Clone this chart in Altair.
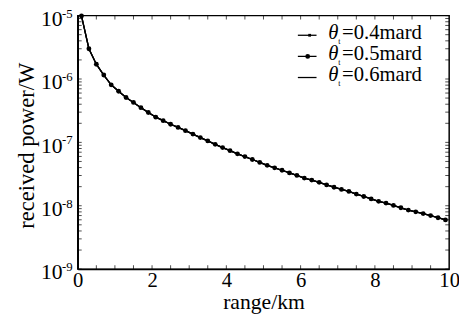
import altair as alt
import pandas as pd

# ---- data ----
range_km = [0.1, 0.3, 0.5, 0.7, 0.9, 1.1, 1.3, 1.5, 1.7, 1.9,
            2.1, 2.3, 2.5, 2.7, 2.9, 3.1, 3.3, 3.5, 3.7, 3.9,
            4.1, 4.3, 4.5, 4.7, 4.9, 5.1, 5.3, 5.5, 5.7, 5.9,
            6.1, 6.3, 6.5, 6.7, 6.9, 7.1, 7.3, 7.5, 7.7, 7.9,
            8.1, 8.3, 8.5, 8.7, 8.9, 9.1, 9.3, 9.5, 9.7, 9.9]
power_w = [9.9e-6, 3.0e-6, 1.71e-6, 1.155e-6, 8.09e-7, 6.40e-7, 5.10e-7, 4.27e-7, 3.53e-7, 2.96e-7,
           2.50e-7, 2.20e-7, 1.93e-7, 1.72e-7, 1.53e-7, 1.35e-7, 1.19e-7, 1.055e-7, 9.31e-8, 8.28e-8,
           7.39e-8, 6.59e-8, 5.97e-8, 5.37e-8, 4.82e-8, 4.34e-8, 3.97e-8, 3.63e-8, 3.30e-8, 3.01e-8,
           2.73e-8, 2.54e-8, 2.34e-8, 2.13e-8, 1.96e-8, 1.81e-8, 1.68e-8, 1.53e-8, 1.40e-8, 1.28e-8,
           1.175e-8, 1.10e-8, 1.01e-8, 9.29e-9, 8.53e-9, 8.01e-9, 7.51e-9, 7.00e-9, 6.47e-9, 5.98e-9]
series = ["0.4mard", "0.5mard", "0.6mard"]

x_labels = [0, 2, 4, 6, 8, 10]
x_minor = [0.5, 1, 1.5, 2, 2.5, 3, 3.5, 4, 4.5, 5, 5.5, 6, 6.5, 7, 7.5, 8, 8.5, 9, 9.5]
y_decades = [1e-9, 1e-8, 1e-7, 1e-6, 1e-5]
y_exponents = ["-9", "-8", "-7", "-6", "-5"]
y_minor = [m * d for d in [1e-9, 1e-8, 1e-7, 1e-6] for m in [2, 3, 4, 5, 6, 7, 8, 9]]

rows = [{"range": r, "power": p, "series": s}
        for s in series for r, p in zip(range_km, power_w)]
df = pd.DataFrame(rows)
exp_df = pd.DataFrame({"value": y_decades, "exp": y_exponents})
xt_df = pd.DataFrame({"value": x_minor})
yt_df = pd.DataFrame({"value": y_minor + y_decades})

FONT = "Liberation Serif"
W, H = 378, 258

xscale = alt.Scale(domain=[0, 10], nice=False, zero=False)
yscale = alt.Scale(type="log", domain=[1e-9, 1e-5], nice=False)

x_axis = alt.Axis(values=x_labels, labelFont=FONT, labelFontSize=21, labelColor="black",
                  tickSize=0, labelPadding=1, grid=False, domainColor="black", domainWidth=1.5,
                  title="range/km", titleFont=FONT, titleFontSize=22, titleFontWeight="normal",
                  titleColor="black", titleX=W / 2, titleY=40, titleBaseline="alphabetic",
                  labelFlush=False)
y_axis = alt.Axis(values=y_decades, labelExpr="'10'", labelFont=FONT, labelFontSize=22,
                  labelColor="black", tickSize=0, labelPadding=16, grid=False,
                  labelBaseline="middle", labelOffset=3,
                  domainColor="black", domainWidth=1.5,
                  title="received power/W", titleFont=FONT, titleFontSize=23,
                  titleFontWeight="normal", titleColor="black", titleX=-52, titleY=132,
                  titleAngle=-90, titleBaseline="middle", titleAlign="center")

base = alt.Chart(df)
X = alt.X("range:Q", scale=xscale, axis=x_axis)
Y = alt.Y("power:Q", scale=yscale, axis=y_axis)

line06 = base.transform_filter(alt.datum.series == "0.6mard").mark_line(
    color="black", strokeWidth=1.3).encode(x=X, y=Y)
line05 = base.transform_filter(alt.datum.series == "0.5mard").mark_line(
    color="black", strokeWidth=1.3).encode(x=X, y=Y)
pts05 = base.transform_filter(alt.datum.series == "0.5mard").mark_point(
    filled=True, color="black", size=24, opacity=1, shape="circle").encode(x=X, y=Y)
line04 = base.transform_filter(alt.datum.series == "0.4mard").mark_line(
    color="black", strokeWidth=1.3).encode(x=X, y=Y)
pts04 = base.transform_filter(alt.datum.series == "0.4mard").mark_point(
    filled=True, color="black", size=8, opacity=1, shape="square").encode(x=X, y=Y)

# superscript exponents of the y labels
exps = alt.Chart(exp_df).mark_text(font=FONT, fontSize=13, color="black", align="left",
                                   baseline="middle", dy=-2).encode(
    y=alt.Y("value:Q", scale=yscale), x=alt.value(-16), text="exp:N")

# inward minor ticks
tick_bottom = alt.Chart(xt_df).mark_tick(orient="vertical", color="black", thickness=1, size=4).encode(
    x=alt.X("value:Q", scale=xscale), y=alt.value(H - 2))
tick_top = alt.Chart(xt_df).mark_tick(orient="vertical", color="black", thickness=1, size=4).encode(
    x=alt.X("value:Q", scale=xscale), y=alt.value(2))
tick_left = alt.Chart(yt_df).mark_tick(orient="horizontal", color="black", thickness=1, size=4).encode(
    y=alt.Y("value:Q", scale=yscale), x=alt.value(2))
tick_right = alt.Chart(yt_df).mark_tick(orient="horizontal", color="black", thickness=1, size=4).encode(
    y=alt.Y("value:Q", scale=yscale), x=alt.value(W - 2))

# legend drawn by hand
one = pd.DataFrame({"k": [0]})
legend_layers = []
for i, s in enumerate(series):
    ly = 20 + 21.5 * i
    ty = ly - 2
    legend_layers.append(alt.Chart(one).mark_rule(color="black", strokeWidth=1.3).encode(
        x=alt.value(224), x2=alt.value(243), y=alt.value(ly)))
    if s == "0.4mard":
        legend_layers.append(alt.Chart(one).mark_point(filled=True, color="black", size=8,
                                                       shape="square", opacity=1).encode(
            x=alt.value(236), y=alt.value(ly)))
    if s == "0.5mard":
        legend_layers.append(alt.Chart(one).mark_point(filled=True, color="black", size=24,
                                                       shape="circle", opacity=1).encode(
            x=alt.value(234), y=alt.value(ly)))
    legend_layers.append(alt.Chart(one).mark_text(font=FONT, fontSize=21, fontStyle="italic",
                                                  color="black", align="left",
                                                  baseline="middle").encode(
        x=alt.value(255), y=alt.value(ty), text=alt.value("θ")))
    legend_layers.append(alt.Chart(one).mark_text(font=FONT, fontSize=8, color="black",
                                                  align="left", baseline="top").encode(
        x=alt.value(265), y=alt.value(ty + 5), text=alt.value("t")))
    legend_layers.append(alt.Chart(one).mark_text(font=FONT, fontSize=21, color="black",
                                                  align="left", baseline="middle").encode(
        x=alt.value(269), y=alt.value(ty), text=alt.value("=" + s)))

chart = alt.layer(line06, line05, line04, pts05, pts04, exps,
                  tick_bottom, tick_top, tick_left, tick_right, *legend_layers).properties(
    width=W, height=H,
    autosize=alt.AutoSizeParams(type="none"),
    padding={"left": 71, "top": 5, "right": 10, "bottom": 47},
    background="white",
).configure_view(stroke="black", strokeWidth=1.5)

chart.save("out.html", embed_options={"renderer": "svg", "actions": False})
